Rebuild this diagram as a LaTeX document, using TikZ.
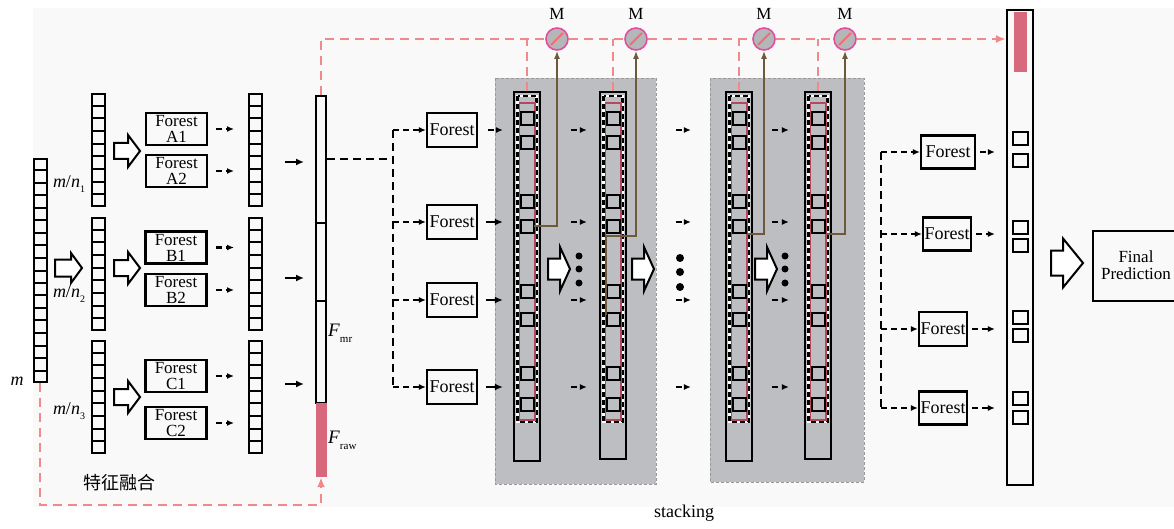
\documentclass[tikz,border=0pt]{standalone}
\usepackage{fontspec}
\setmainfont{Liberation Serif}
\newfontfamily\cjk{Noto Sans CJK SC}
\usetikzlibrary{arrows.meta,calc}
\definecolor{bgc}{HTML}{F9F9F9}
\definecolor{stk}{HTML}{BCBEC1}
\definecolor{pk}{HTML}{F08A8A}
\definecolor{rawred}{HTML}{D8687C}
\definecolor{mring}{HTML}{E0509A}
\definecolor{mfill}{HTML}{B4B6BA}
\definecolor{brn}{HTML}{6E5A3A}
\definecolor{rrect}{HTML}{B5475E}
\tikzset{
 cellbox/.style={draw, line width=2pt, minimum width=13pt, inner sep=0pt},
 forestbox/.style={draw, line width=2.2pt, inner sep=0pt, font=\fontsize{18}{15}\selectfont, align=center},
 forest2/.style={forestbox, font=\fontsize{17}{16}\selectfont},
 dar/.style={line width=2pt, dash pattern=on 6pt off 4pt, -{Latex[length=7pt,width=6pt]}},
 sar/.style={line width=2.2pt, -{Latex[length=8pt,width=7pt]}},
 dline/.style={line width=2pt, dash pattern=on 8pt off 5pt},
 pkline/.style={draw=pk, line width=2.4pt, dash pattern=on 9pt off 6pt},
 pkarrow/.style={pkline, -{Latex[length=10pt,width=8pt]}},
 brarrow/.style={draw=brn, line width=1.8pt, -{Latex[length=8pt,width=6pt]}},
 blk/.style={draw, line width=2pt, fill=white, line join=miter},
 mcirc/.style={circle, draw=mring, fill=mfill, line width=1.6pt, minimum size=22pt, inner sep=0pt},
 region/.style={fill=stk, draw=gray!80, line width=0.8pt, dash pattern=on 3pt off 2pt},
 lbl/.style={font=\fontsize{18}{18}\selectfont, inner sep=0pt},
}
\newcommand\blockarrow[6]{%
 \draw[blk] (#1,#2-#6/2) -- (#1+#3-#5,#2-#6/2) -- (#1+#3-#5,#2-#4/2) -- (#1+#3,#2) -- (#1+#3-#5,#2+#4/2) -- (#1+#3-#5,#2+#6/2) -- (#1,#2+#6/2) -- cycle;}
\newcommand\cellcol[5]{%
 \node[cellbox, minimum height=#4] (#1) at (#2,#3) {};
 \pgfmathtruncatemacro\cellN{#5-1}%
 \foreach \i in {1,...,\cellN} \draw[line width=2pt] ($(#1.north west)!\i/#5!(#1.south west)$) -- ($(#1.north east)!\i/#5!(#1.south east)$);
}
\newcommand\stackcol[3]{%
 \node[draw, line width=2.2pt, minimum width=26pt, minimum height=#3-92, inner sep=0pt] (#1) at (#2+13,46+#3/2) {};
 \draw[white, line width=2.2pt] (#2+3.5,96) rectangle (#2+22.5,422);
 \draw[black, line width=2.2pt, dash pattern=on 5pt off 3pt] (#2+3.5,96) rectangle (#2+22.5,422);
 \draw[rrect, line width=1.2pt] (#2+5.5,103) rectangle (#2+21,420);
 \foreach \t in {112,136,195,220,285,313,367,398} \draw[line width=2pt] (#2+7,\t) rectangle (#2+20,\t+13);
}
\begin{document}
\begin{tikzpicture}[x=1pt,y=-1pt]
\clip (0,0) rectangle (1174,529);
\fill[white] (0,0) rectangle (1174,529);
\fill[bgc] (33,8) rectangle (1174,507);

% stacking regions
\draw[region] (495,78) rectangle (656,484);
\draw[region] (710,78) rectangle (864,482);

% input column
\cellcol{mcol}{40}{270.5}{223}{18}
\node[lbl, font=\fontsize{18}{18}\selectfont\itshape] (mlab) at (17,381) {m};
\blockarrow{55}{268}{27}{30}{11}{17}

% group columns
\cellcol{lA}{98}{150}{112}{9}
\cellcol{lB}{98}{274}{112}{9}
\cellcol{lC}{98}{397}{112}{9}
\node[lbl] (ln1) at (69,184) {\textit{m}/\textit{n}\raisebox{-5pt}{\fontsize{10}{10}\selectfont 1}};
\node[lbl] (ln2) at (69,294) {\textit{m}/\textit{n}\raisebox{-5pt}{\fontsize{10}{10}\selectfont 2}};
\node[lbl] (ln3) at (69,411) {\textit{m}/\textit{n}\raisebox{-5pt}{\fontsize{10}{10}\selectfont 3}};
\blockarrow{114}{151}{26}{32}{12}{16}
\blockarrow{114}{268}{26}{32}{12}{16}
\blockarrow{114}{397}{26}{32}{12}{16}

% forests A B C
\node[forest2, minimum width=61pt, minimum height=32pt] (A1) at (176.5,129) {Forest\\A1};
\node[forest2, minimum width=61pt, minimum height=32pt] (A2) at (176.5,171) {Forest\\A2};
\node[forest2, minimum width=61pt, minimum height=32pt] (B1) at (176,247.5) {Forest\\B1};
\node[forest2, minimum width=61pt, minimum height=32pt] (B2) at (176,290) {Forest\\B2};
\node[forest2, minimum width=61pt, minimum height=32pt] (C1) at (176,376) {Forest\\C1};
\node[forest2, minimum width=61pt, minimum height=32pt] (C2) at (176,423) {Forest\\C2};

\cellcol{rA}{255.5}{150}{112}{9}
\cellcol{rB}{255.5}{274}{112}{9}
\cellcol{rC}{255.5}{397}{112}{9}

\foreach \f/\c in {A1/rA,A2/rA,B1/rB,B2/rB,C1/rC,C2/rC}
  \draw[dar, shorten <=8pt, shorten >=14pt] (\f.east) -- (\f.east -| \c.west);

% F column
\node[draw, line width=2pt, minimum width=10pt, minimum height=127pt, inner sep=0pt] (F1) at (321,159.5) {};
\node[draw, line width=2pt, minimum width=10pt, minimum height=78pt, inner sep=0pt] (F2) at (321,262) {};
\node[draw, line width=2pt, minimum width=10pt, minimum height=102pt, inner sep=0pt] (F3) at (321,352) {};
\node[fill=rawred, minimum width=11pt, minimum height=74pt, inner sep=0pt] (Fraw) at (321,440) {};
\node[anchor=west, inner sep=0pt] (Fmr) at (328,333) {\fontsize{19}{19}\selectfont\textit{F}\raisebox{-6pt}{\fontsize{11}{11}\selectfont mr}};
\node[anchor=west, inner sep=0pt] (Frw) at (328,440) {\fontsize{19}{19}\selectfont\textit{F}\raisebox{-6pt}{\fontsize{11}{11}\selectfont raw}};

\draw[sar, shorten <=22pt, shorten >=11pt] ([yshift=-12pt]rA.east) -- ([yshift=-12pt]rA.east -| F1.west);
\draw[sar, shorten <=22pt, shorten >=11pt] ([yshift=-4pt]rB.east) -- ([yshift=-4pt]rB.east -| F2.west);
\draw[sar, shorten <=22pt, shorten >=11pt] ([yshift=13pt]rC.east) -- ([yshift=13pt]rC.east -| F3.west);

\node[lbl, font=\fontsize{18}{18}\selectfont\cjk] (fuse) at (119,483) {特征融合};

% pink feedback path
\coordinate (pkB) at (321,505);
\draw[pkarrow] (mcol.south) |- (pkB) -- (Fraw.south);

% middle forests
\node[forestbox, minimum width=50pt, minimum height=34pt] (MF1) at (452,130) {Forest};
\node[forestbox, minimum width=50pt, minimum height=34pt] (MF2) at (452,222) {Forest};
\node[forestbox, minimum width=50pt, minimum height=34pt] (MF3) at (452,300) {Forest};
\node[forestbox, minimum width=50pt, minimum height=34pt] (MF4) at (452,387) {Forest};
\coordinate (brT) at (393,130);
\coordinate (brB) at (393,387);
\draw[dline] (F1.east) -- (F1.east -| brT);
\draw[dline] (brT) -- (brB);
\foreach \f in {MF1,MF2,MF3,MF4}
  \draw[dar] (\f.west -| brT) -- (\f.west);

% stacking columns
\stackcol{S1}{514}{461}
\stackcol{S2}{600}{459}
\stackcol{S3}{726}{461}
\stackcol{S4}{805}{459}

\draw[dar, shorten <=10pt, shorten >=10pt] (MF1.east) -- (MF1.east -| S1.west);
\foreach \f in {MF2,MF3,MF4}
  \draw[sar, shorten <=8pt, shorten >=10pt] (\f.east) -- (\f.east -| S1.west);
\foreach \f in {MF1,MF2,MF3,MF4} {
  \draw[dar, shorten <=30pt, shorten >=12pt] (S1.east |- \f) -- (S2.west |- \f);
  \draw[dar, shorten <=49pt, shorten >=34pt] (S2.east |- \f) -- (S3.west |- \f);
  \draw[dar, shorten <=19pt, shorten >=15pt] (S3.east |- \f) -- (S4.west |- \f);
}

\blockarrow{548}{269}{22}{44}{10}{21}
\blockarrow{632}{269}{22}{44}{10}{21}
\blockarrow{755}{269}{22}{44}{10}{21}
\foreach \y in {256,269,283} \fill (579,\y) circle (3.5);
\foreach \y in {258,272,287} \fill (680,\y) circle (4);
\foreach \y in {256,269,283} \fill (785,\y) circle (3.5);

% M circles
\node[mcirc] (M1) at (557,39) {};
\node[mcirc] (M2) at (636,39) {};
\node[mcirc] (M3) at (764,39) {};
\node[mcirc] (M4) at (845,39) {};
\foreach \m in {M1,M2,M3,M4} {
  \draw[pk!80!red, line width=1.8pt] ($(\m.center)+(-6,6)$) -- ($(\m.center)+(6,-6)$);
  \node[font=\fontsize{17}{17}\selectfont, anchor=south, inner sep=0pt] at ([yshift=7pt]\m.north) {M};
}

% final column
\node[draw, line width=2.2pt, fill=bgc, minimum width=26pt, minimum height=475pt, inner sep=0pt] (FC) at (1020,247.5) {};
\fill[rawred] (1014,12) rectangle (1027,72);
\foreach \t in {132,154,221,239,311,329,392,411} \draw[line width=2pt] (1013,\t) rectangle (1028,\t+13);

% pink top path
\draw[pkline] (F1.north) |- (M1.west);
\draw[pkline] (M1.east) -- (M2.west);
\draw[pkline] (M2.east) -- (M3.west);
\draw[pkline] (M3.east) -- (M4.west);
\draw[pkarrow] (M4.east) -- (M4.east -| FC.west);
\foreach \s/\m in {S1/M1,S2/M1,S3/M1,S4/M1}
  \draw[pkline] (\s.north) -- (\s.north |- \m.center);

% brown arrows
\coordinate (br1) at (534,226);
\coordinate (br2a) at (606,315);
\coordinate (br2b) at (606,236);
\coordinate (br3) at (747,234);
\coordinate (br4) at (827,234);
\draw[brarrow] (br1) -| (M1.south);
\draw[brarrow] (br2a) -- (br2b) -| (M2.south);
\draw[brarrow] (br3) -| (M3.south);
\draw[brarrow] (br4) -| (M4.south);

% right forests
\node[forestbox, minimum width=54pt, minimum height=33pt] (RF1) at (948,152) {Forest};
\node[forestbox, minimum width=48pt, minimum height=33pt] (RF2) at (947,234) {Forest};
\node[forestbox, minimum width=48pt, minimum height=34pt] (RF3) at (943,329) {Forest};
\node[forestbox, minimum width=48pt, minimum height=33pt] (RF4) at (943,408) {Forest};
\coordinate (rbT) at (881,152);
\coordinate (rbB) at (881,408);
\draw[dline] (rbT) -- (rbB);
\foreach \f in {RF1,RF2,RF3,RF4} {
  \draw[dar] (\f.west -| rbT) -- (\f.west);
  \draw[dar, shorten <=4pt, shorten >=11pt] (\f.east) -- (\f.east -| FC.west);
}

% final prediction
\blockarrow{1051}{263}{32}{49}{20}{25}
\node[draw, line width=2.2pt, minimum width=90pt, minimum height=70pt, inner sep=0pt] (FP) at (1138,266) {};
\node[font=\fontsize{17}{16.5}\selectfont, align=center, inner sep=0pt] (FPt) at (1136,265) {Final\\Prediction};

\node[lbl] (stk) at (684,513) {stacking};
\end{tikzpicture}
\end{document}
